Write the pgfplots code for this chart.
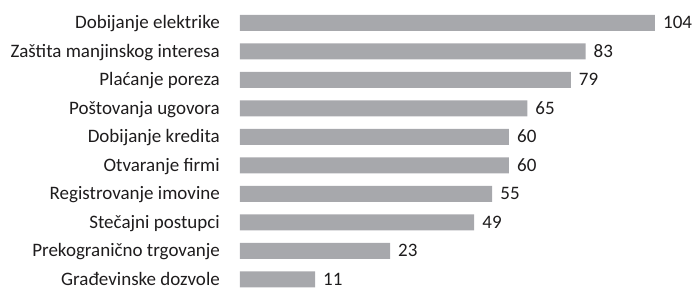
\documentclass[border=0pt]{standalone}
\usepackage{pgfplots}
\pgfplotsset{compat=1.18}
\usepackage{fontspec}
\setmainfont{Carlito}
\definecolor{bargray}{RGB}{167,168,172}
\definecolor{txt}{RGB}{30,28,29}
\begin{document}
\begin{tikzpicture}
\useasboundingbox (-240bp,0bp) rectangle (452bp,290bp);
\begin{axis}[
  at={(0bp,-3.75bp)}, anchor=south west,
  scale only axis, width=452bp, height=285bp,
  xbar, bar width=16bp,
  xmin=0, xmax=113.28, ymin=-0.5, ymax=9.5,
  axis line style={draw=none},
  major tick length=0pt,
  xtick=\empty,
  ytick={0,...,9},
  yticklabels={Građevinske dozvole, Prekogranično trgovanje, Stečajni postupci, Registrovanje imovine, Otvaranje firmi, Dobijanje kredita, Poštovanja ugovora, Plaćanje poreza, Zaštita manjinskog interesa, Dobijanje elektrike},
  yticklabel style={anchor=base east, inner sep=0pt, xshift=-20bp, yshift=-6bp, font=\fontsize{19bp}{21bp}\selectfont, text=txt},
  nodes near coords,
  point meta=explicit symbolic,
  every node near coord/.append style={anchor=base west, inner sep=0pt, xshift=8bp, yshift=-6bp, font=\fontsize{19bp}{21bp}\selectfont, text=txt},
  clip=false,
]
\addplot[fill=bargray, draw=none] table[x=len, y=y, meta=val] {
y len val
9 104.0 104
8 86.6 83
7 82.9 79
6 72.0 65
5 67.4 60
4 67.4 60
3 63.2 55
2 58.7 49
1 37.6 23
0 18.8 11
};
\end{axis}
\end{tikzpicture}
\end{document}
